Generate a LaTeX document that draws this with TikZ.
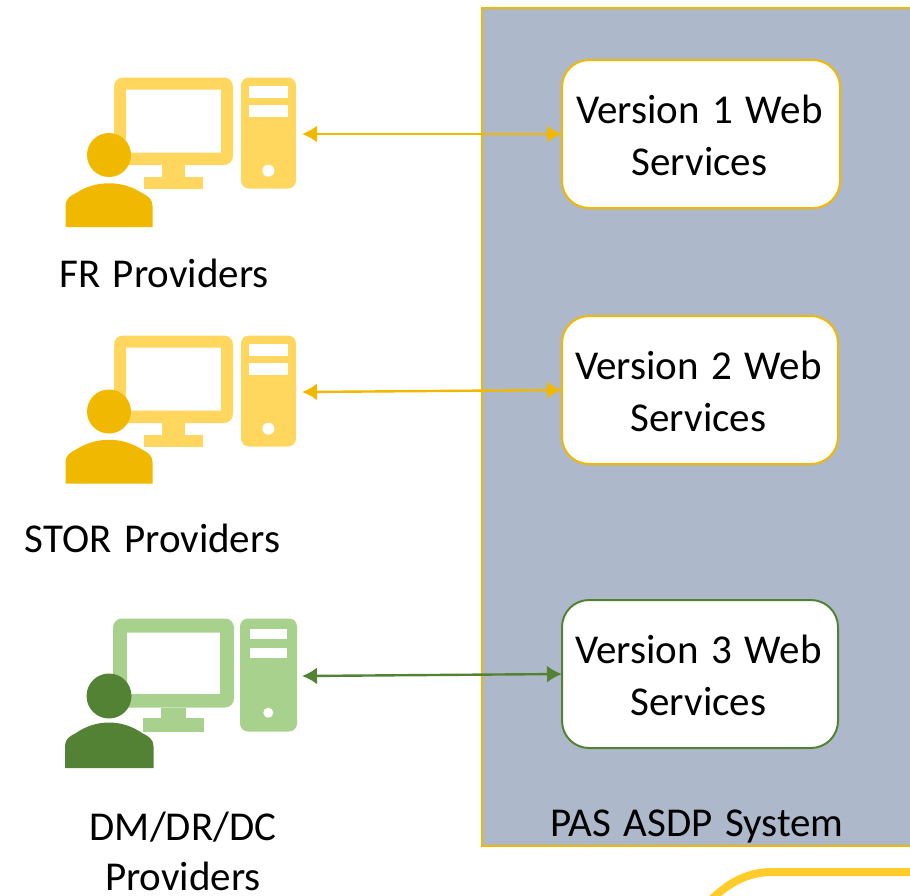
\documentclass[tikz,border=0pt]{standalone}
\usepackage{fontspec}
\setmainfont[WordSpace=1.35]{Carlito}
\definecolor{goldD}{HTML}{F1B800}
\definecolor{goldL}{HTML}{FFD75F}
\definecolor{greenD}{HTML}{548235}
\definecolor{greenL}{HTML}{A9D18E}
\definecolor{panel}{HTML}{ADB9CA}
\definecolor{swoosh}{HTML}{FFCC29}
\newcommand{\usericon}[4]{%
  \begin{scope}[yshift=#1pt]
    \fill[#3,even odd rule]
      [rounded corners=9pt] (114,77.5) rectangle (233,165)
      [sharp corners] (126,89.5) rectangle (221,152.5);
    \fill[#3] (162,165) rectangle (185,177);
    \fill[#3] (144,177) rectangle (203,188.5);
    \fill[#3,rounded corners=8pt] (241,77.5) rectangle (296,188.5);
    \fill[white] (249,86) rectangle (288,97.5);
    \fill[white] (249,105) rectangle (288,117);
    \fill[white] (268.3,170.7) circle[radius=6];
  \end{scope}
  \begin{scope}[yshift=#2pt]
    \fill[#4] (109,155) circle[radius=22];
    \fill[#4] (65.5,227) -- (65.5,206) .. controls (65.5,199) and (70,196) .. (76,193)
      .. controls (96,180) and (122,180) .. (142,193)
      .. controls (148,196) and (152.5,199) .. (152.5,206) -- (152.5,227) -- cycle;
  \end{scope}}
\usetikzlibrary{arrows.meta}
\newcommand{\boxtext}[2]{\rule{0pt}{32pt}\hspace*{-3pt}#1\\\hspace*{-3pt}#2}
\tikzset{
  lbl/.style={anchor=base,font=\fontsize{41}{52}\selectfont,text=black,inner sep=0pt,align=center},
  wsbox/.style={draw=#1,fill=white,line width=2pt,rounded corners=27pt,anchor=north west,outer sep=0pt,
    font=\fontsize{41}{52}\selectfont,text=black,align=center,inner sep=0pt},
  link/.style={draw=#1,line width=2.4pt,{Latex[length=15pt,width=17pt]}-{Latex[length=15pt,width=17pt]}}
}
\begin{document}
\begin{tikzpicture}[x=1pt,y=-1pt]
\useasboundingbox (0,0) rectangle (910,895);
\clip (0,0) rectangle (910,895);
\node[draw=goldD,fill=panel,line width=2.2pt,anchor=north west,outer sep=0pt,minimum width=440pt,minimum height=838pt,inner sep=0pt] (system) at (482,8) {};
\node[lbl] (systemlabel) at (697,836.5) {PAS ASDP System};
\draw[swoosh,line width=8pt] (706,905) .. controls (726,884) and (746,872) .. (772,872) -- (920,872);
\node[wsbox=goldD,minimum width=278pt,minimum height=148pt] (v1) at (562,60) {\boxtext{Version 1 Web}{Services}};
\node[wsbox=goldD,minimum width=276pt,minimum height=148pt] (v2) at (562,316) {\boxtext{Version 2 Web}{Services}};
\node[wsbox=greenD,minimum width=276pt,minimum height=148pt] (v3) at (562,600) {\boxtext{Version 3 Web}{Services}};
\usericon{0}{0}{goldL}{goldD}
\usericon{-258}{-256.5}{goldL}{goldD}
% third icon
\begin{scope}
  \fill[greenL,even odd rule] [rounded corners=9pt] (113,618.5) rectangle (234,707.5)
    [sharp corners] (127,632.5) rectangle (220,694);
  \fill[greenL] (161,707.5) rectangle (186,718);
  \fill[greenL] (143,718) rectangle (204,731.5);
  \fill[greenL,rounded corners=8pt] (240,618.5) rectangle (297,731.5);
  \fill[white] (249.5,628.5) rectangle (287,638.5);
  \fill[white] (249.5,648) rectangle (287,658);
  \fill[white] (268.3,712.7) circle[radius=5];
  \fill[greenD] (109,696) circle[radius=22.5];
  \fill[greenD] (65,768) -- (65,746) .. controls (65,739) and (70,736) .. (76,733)
    .. controls (96,719) and (122,719) .. (142,733)
    .. controls (148,736) and (153.5,739) .. (153.5,746) -- (153.5,768) -- cycle;
\end{scope}
\node[lbl] (fr) at (164,287) {FR Providers};
\node[lbl] (stor) at (152.5,552.5) {STOR Providers};
\node[lbl] (dm) at (183,840.5) {DM/DR/DC};
\node[lbl] (dm2) at (183,890) {Providers};
\coordinate (c1) at (302,134);
\coordinate (c2) at (302,392);
\coordinate (c3) at (302,676);
\draw[link=goldD] (c1) -- (v1.west);
\draw[link=goldD] (c2) -- (v2.west);
\draw[link=greenD] (c3) -- (v3.west);
\end{tikzpicture}
\end{document}
